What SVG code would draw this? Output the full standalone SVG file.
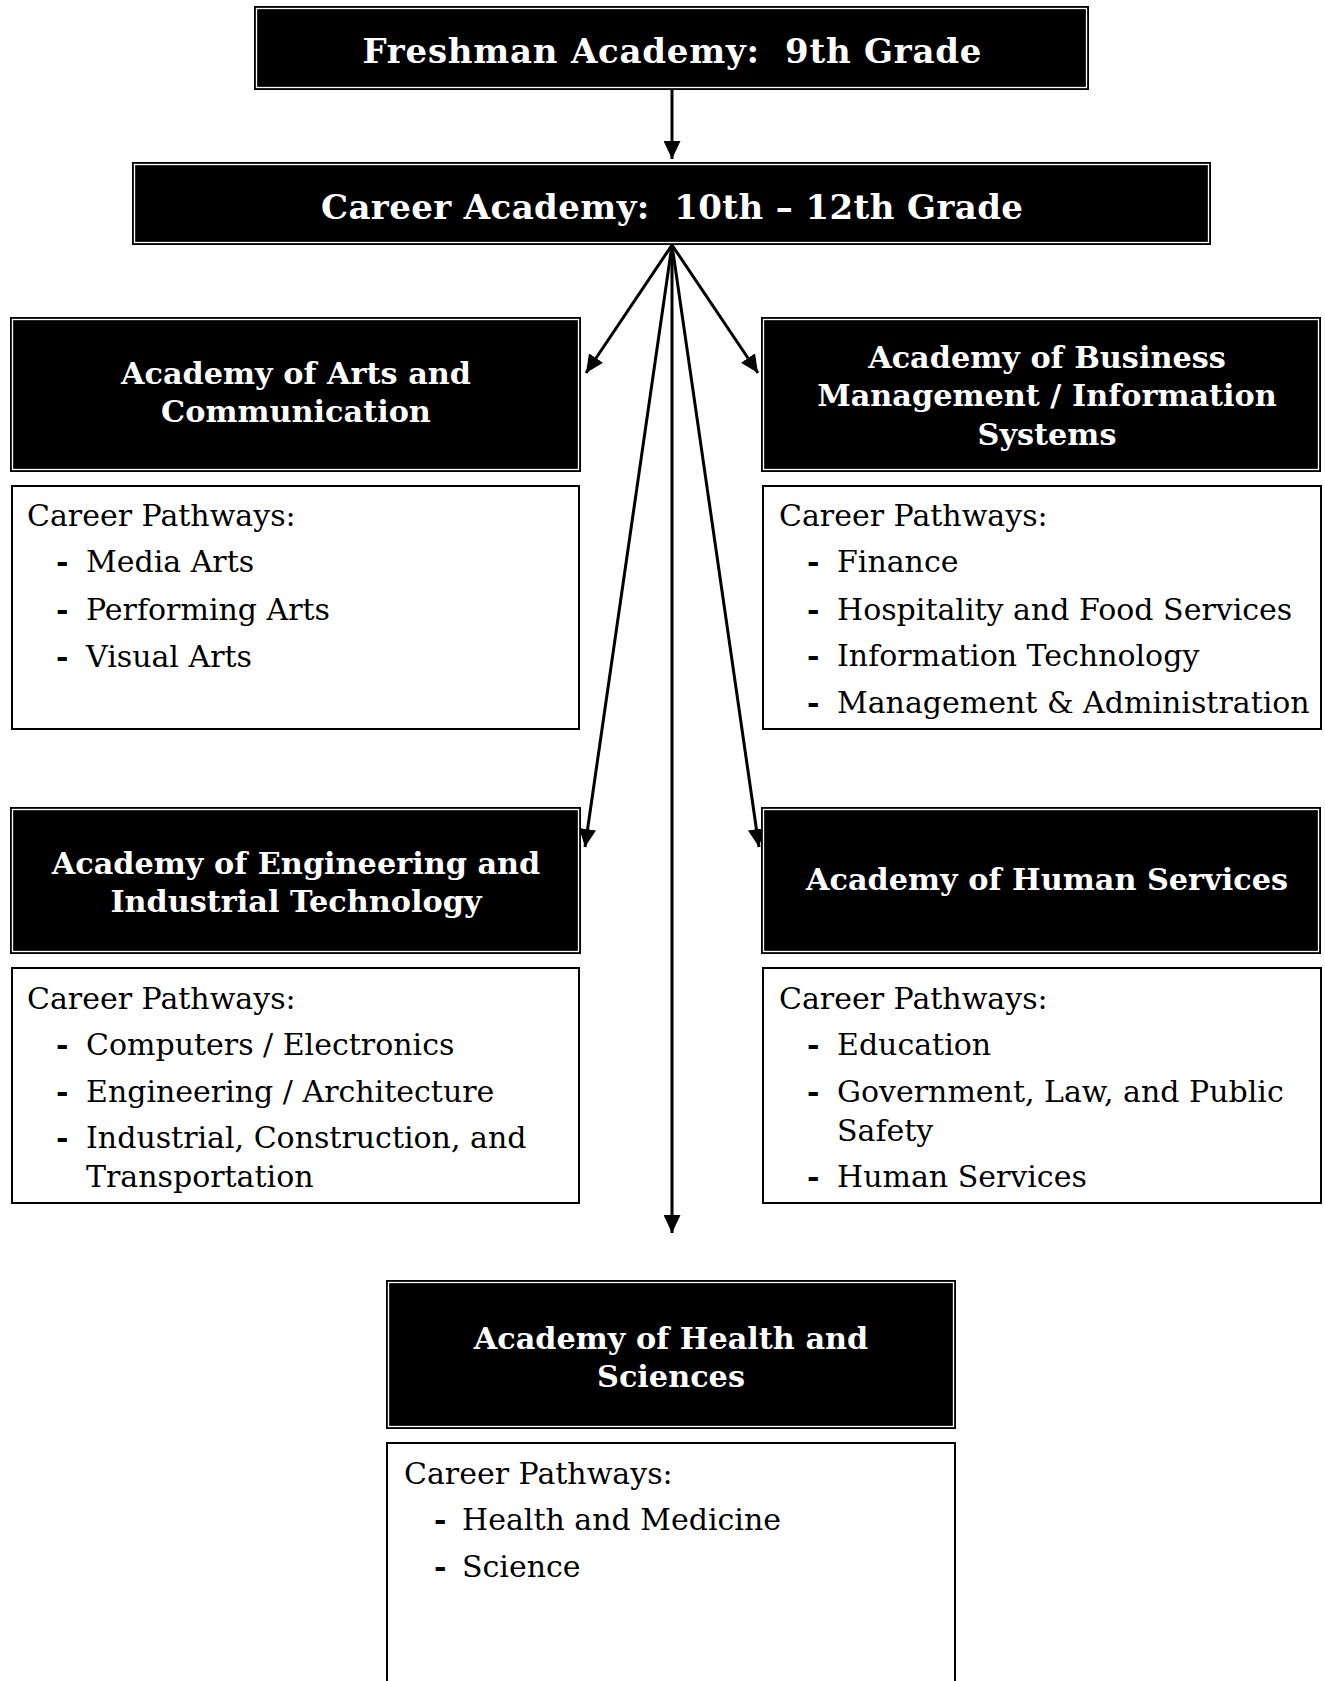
<svg xmlns="http://www.w3.org/2000/svg" width="1325" height="1681" viewBox="0 0 1325 1681">
<style>
.hdr{fill:#000}
.hin{fill:none;stroke:#fff;stroke-width:1.3}
.pbox{fill:#fff;stroke:#000;stroke-width:2}
.ttl{font-family:"DejaVu Serif","Liberation Serif",serif;font-weight:bold;font-size:34px;fill:#fff;text-anchor:middle}
.sub{font-family:"DejaVu Serif","Liberation Serif",serif;font-weight:bold;font-size:30.3px;fill:#fff;text-anchor:middle}
.txt{font-family:"DejaVu Serif","Liberation Serif",serif;font-size:30px;fill:#000}
.dash{font-family:"DejaVu Serif","Liberation Serif",serif;font-size:30px;font-weight:bold;fill:#000}
.con{stroke:#000;stroke-width:3;fill:none}
</style>
<defs>
<marker id="ah" markerUnits="userSpaceOnUse" markerWidth="19" markerHeight="17" refX="18" refY="8.5" orient="auto">
<path d="M0,0 L18,8.5 L0,17 z" fill="#000"/>
</marker>
</defs>
<rect width="1325" height="1681" fill="#fff"/>

<g id="connectors">
<line class="con" x1="672" y1="90" x2="672" y2="159" marker-end="url(#ah)"/>
<line class="con" x1="672" y1="245" x2="586" y2="373" marker-end="url(#ah)"/>
<line class="con" x1="672" y1="245" x2="758" y2="373" marker-end="url(#ah)"/>
<line class="con" x1="672" y1="245" x2="585" y2="847" marker-end="url(#ah)"/>
<line class="con" x1="672" y1="245" x2="759" y2="847" marker-end="url(#ah)"/>
<line class="con" x1="672" y1="245" x2="672" y2="1233" marker-end="url(#ah)"/>
</g>

<g id="freshman">
<rect class="hdr" x="254" y="6" width="835" height="84"/>
<rect class="hin" x="256.5" y="8.5" width="830" height="79"/>
<text class="ttl" x="672" y="63" xml:space="preserve" textLength="619">Freshman Academy:  9th Grade</text>
</g>

<g id="career">
<rect class="hdr" x="132" y="162" width="1079" height="83"/>
<rect class="hin" x="134.5" y="164.5" width="1074" height="78"/>
<text class="ttl" x="672" y="219" xml:space="preserve" textLength="702">Career Academy:  10th – 12th Grade</text>
</g>

<g id="arts">
<rect class="hdr" x="10" y="317" width="571" height="155"/>
<rect class="hin" x="12.5" y="319.5" width="566" height="150"/>
<text class="sub" x="296" y="384">Academy of Arts and</text>
<text class="sub" x="296" y="422">Communication</text>
</g>
<g id="arts-pathways">
<rect class="pbox" x="12" y="486" width="567" height="243"/>
<text class="txt" x="27" y="526">Career Pathways:</text>
<text class="dash" x="56" y="572">-</text><text class="txt" x="86" y="572">Media Arts</text>
<text class="dash" x="56" y="620">-</text><text class="txt" x="86" y="620">Performing Arts</text>
<text class="dash" x="56" y="667">-</text><text class="txt" x="86" y="667">Visual Arts</text>
</g>

<g id="business">
<rect class="hdr" x="761" y="317" width="560" height="155"/>
<rect class="hin" x="763.5" y="319.5" width="555" height="150"/>
<text class="sub" x="1047" y="368">Academy of Business</text>
<text class="sub" x="1047" y="406">Management / Information</text>
<text class="sub" x="1047" y="445">Systems</text>
</g>
<g id="business-pathways">
<rect class="pbox" x="763" y="486" width="558" height="243"/>
<text class="txt" x="779" y="526">Career Pathways:</text>
<text class="dash" x="807" y="572">-</text><text class="txt" x="837" y="572">Finance</text>
<text class="dash" x="807" y="620">-</text><text class="txt" x="837" y="620">Hospitality and Food Services</text>
<text class="dash" x="807" y="666">-</text><text class="txt" x="837" y="666">Information Technology</text>
<text class="dash" x="807" y="713">-</text><text class="txt" x="837" y="713">Management &amp; Administration</text>
</g>

<g id="engineering">
<rect class="hdr" x="10" y="807" width="571" height="147"/>
<rect class="hin" x="12.5" y="809.5" width="566" height="142"/>
<text class="sub" x="296" y="874">Academy of Engineering and</text>
<text class="sub" x="296" y="912">Industrial Technology</text>
</g>
<g id="engineering-pathways">
<rect class="pbox" x="12" y="968" width="567" height="235"/>
<text class="txt" x="27" y="1009">Career Pathways:</text>
<text class="dash" x="56" y="1055">-</text><text class="txt" x="86" y="1055">Computers / Electronics</text>
<text class="dash" x="56" y="1102">-</text><text class="txt" x="86" y="1102">Engineering / Architecture</text>
<text class="dash" x="56" y="1148">-</text><text class="txt" x="86" y="1148">Industrial, Construction, and</text>
<text class="txt" x="86" y="1187">Transportation</text>
</g>

<g id="human">
<rect class="hdr" x="761" y="807" width="560" height="147"/>
<rect class="hin" x="763.5" y="809.5" width="555" height="142"/>
<text class="sub" x="1047" y="890">Academy of Human Services</text>
</g>
<g id="human-pathways">
<rect class="pbox" x="763" y="968" width="558" height="235"/>
<text class="txt" x="779" y="1009">Career Pathways:</text>
<text class="dash" x="807" y="1055">-</text><text class="txt" x="837" y="1055">Education</text>
<text class="dash" x="807" y="1102">-</text><text class="txt" x="837" y="1102">Government, Law, and Public</text>
<text class="txt" x="837" y="1141">Safety</text>
<text class="dash" x="807" y="1187">-</text><text class="txt" x="837" y="1187">Human Services</text>
</g>

<g id="health">
<rect class="hdr" x="386" y="1280" width="570" height="149"/>
<rect class="hin" x="388.5" y="1282.5" width="565" height="144"/>
<text class="sub" x="671" y="1349">Academy of Health and</text>
<text class="sub" x="671" y="1387">Sciences</text>
</g>
<g id="health-pathways">
<rect class="pbox" x="387" y="1443" width="568" height="260"/>
<text class="txt" x="404" y="1484">Career Pathways:</text>
<text class="dash" x="434" y="1530">-</text><text class="txt" x="462" y="1530">Health and Medicine</text>
<text class="dash" x="434" y="1577">-</text><text class="txt" x="462" y="1577">Science</text>
</g>
</svg>
